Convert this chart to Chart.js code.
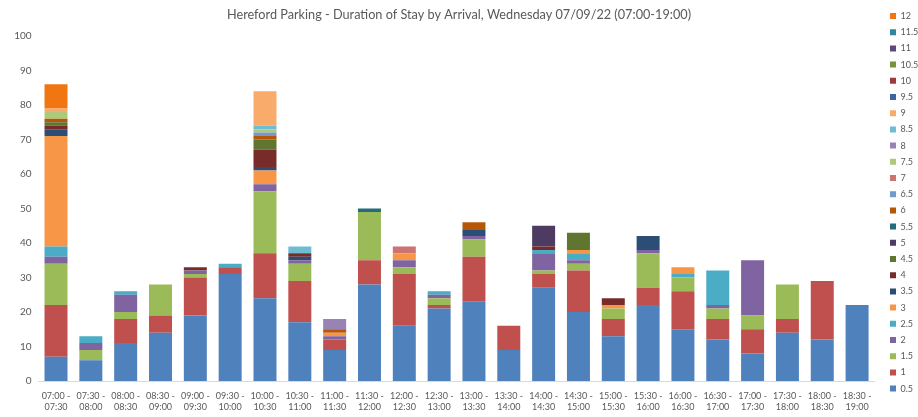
<!DOCTYPE html>
<html><head><meta charset="utf-8">
<script src="https://cdn.jsdelivr.net/npm/chart.js@4/dist/chart.umd.min.js"></script>
<style>html,body{margin:0;padding:0;background:#fff;}</style>
</head><body>
<canvas id="c" width="918" height="417"></canvas>
<script>
const categories = [
  ['07:00 -','07:30'],['07:30 -','08:00'],['08:00 -','08:30'],['08:30 -','09:00'],
  ['09:00 -','09:30'],['09:30 -','10:00'],['10:00 -','10:30'],['10:30 -','11:00'],
  ['11:00 -','11:30'],['11:30 -','12:00'],['12:00 -','12:30'],['12:30 -','13:00'],
  ['13:00 -','13:30'],['13:30 -','14:00'],['14:00 -','14:30'],['14:30 -','15:00'],
  ['15:00 -','15:30'],['15:30 -','16:00'],['16:00 -','16:30'],['16:30 -','17:00'],
  ['17:00 -','17:30'],['17:30 -','18:00'],['18:00 -','18:30'],['18:30 -','19:00']
];
const durations = ['0.5','1','1.5','2','2.5','3','3.5','4','4.5','5','5.5','6',
                   '6.5','7','7.5','8','8.5','9','9.5','10','10.5','11','11.5','12'];
const yTicks = [0,10,20,30,40,50,60,70,80,90,100];

const s0_5 = [7,6,11,14,19,31,24,17,9,28,16,21,23,9,27,20,13,22,15,12,8,14,12,22];
const s1   = [15,0,7,5,11,2,13,12,3,7,15,1,13,7,4,12,5,5,11,6,7,4,17,0];
const s1_5 = [12,3,2,9,1,0,18,5,0,14,2,2,5,0,1,2,3,10,4,3,4,10,0,0];
const s2   = [2,2,5,0,1,0,2,1,1,0,2,1,1,0,5,1,0,1,0,1,16,0,0,0];
const s2_5 = [3,2,1,0,0,1,0,0,0,0,0,1,0,0,1,2,0,0,1,10,0,0,0,0];
const s3   = [32,0,0,0,0,0,4,0,1,0,2,0,0,0,0,1,1,0,2,0,0,0,0,0];
const s3_5 = [2,0,0,0,0,0,1,1,0,0,0,0,2,0,0,0,0,4,0,0,0,0,0,0];
const s4   = [1,0,0,0,1,0,5,1,0,0,0,0,0,0,1,0,2,0,0,0,0,0,0,0];
const s4_5 = [1,0,0,0,0,0,3,0,0,0,0,0,0,0,0,5,0,0,0,0,0,0,0,0];
const s5   = [0,0,0,0,0,0,0,0,0,0,0,0,0,0,6,0,0,0,0,0,0,0,0,0];
const s5_5 = [0,0,0,0,0,0,0,0,0,1,0,0,0,0,0,0,0,0,0,0,0,0,0,0];
const s6   = [1,0,0,0,0,0,1,0,1,0,0,0,2,0,0,0,0,0,0,0,0,0,0,0];
const s6_5 = [0,0,0,0,0,0,1,0,0,0,0,0,0,0,0,0,0,0,0,0,0,0,0,0];
const s7   = [0,0,0,0,0,0,0,0,0,0,2,0,0,0,0,0,0,0,0,0,0,0,0,0];
const s7_5 = [2,0,0,0,0,0,1,0,0,0,0,0,0,0,0,0,0,0,0,0,0,0,0,0];
const s8   = [0,0,0,0,0,0,0,0,3,0,0,0,0,0,0,0,0,0,0,0,0,0,0,0];
const s8_5 = [0,0,0,0,0,0,1,2,0,0,0,0,0,0,0,0,0,0,0,0,0,0,0,0];
const s9   = [1,0,0,0,0,0,10,0,0,0,0,0,0,0,0,0,0,0,0,0,0,0,0,0];
const s9_5 = [0,0,0,0,0,0,0,0,0,0,0,0,0,0,0,0,0,0,0,0,0,0,0,0];
const s10  = [0,0,0,0,0,0,0,0,0,0,0,0,0,0,0,0,0,0,0,0,0,0,0,0];
const s10_5= [0,0,0,0,0,0,0,0,0,0,0,0,0,0,0,0,0,0,0,0,0,0,0,0];
const s11  = [0,0,0,0,0,0,0,0,0,0,0,0,0,0,0,0,0,0,0,0,0,0,0,0];
const s11_5= [0,0,0,0,0,0,0,0,0,0,0,0,0,0,0,0,0,0,0,0,0,0,0,0];
const s12  = [7,0,0,0,0,0,0,0,0,0,0,0,0,0,0,0,0,0,0,0,0,0,0,0];

const seriesValues = [s0_5,s1,s1_5,s2,s2_5,s3,s3_5,s4,s4_5,s5,s5_5,s6,
                      s6_5,s7,s7_5,s8,s8_5,s9,s9_5,s10,s10_5,s11,s11_5,s12];
const seriesColors = ['#4F81BD','#C0504D','#9BBB59','#8064A2','#4BACC6','#F79646',
                      '#2C4D75','#772C2A','#5F7530','#4D3B62','#276A7C','#B65708',
                      '#729ACA','#CD7371','#AFC97A','#9983B5','#6FBDD1','#F9AB6B',
                      '#3A67A0','#9C3B39','#77933C','#5F497A','#31859C','#F17612'];

const datasets = durations.map((d,i)=>({
  label: d,
  data: seriesValues[i].map(v => v === 0 ? null : v),
  backgroundColor: seriesColors[i],
  borderWidth: 0,
  barPercentage: 0.66,
  categoryPercentage: 1.0,
  yAxisID: 'y'
}));

const txt = '#595959';
new Chart(document.getElementById('c'), {
  type: 'bar',
  data: { labels: categories, datasets },
  options: {
    responsive: false,
    animation: false,
    layout: { padding: { left: 0, right: 0, top: 4.3, bottom: 2 } },
    plugins: {
      title: {
        display: true,
        text: 'Hereford Parking - Duration of Stay by Arrival, Wednesday 07/09/22 (07:00-19:00)',
        color: txt,
        font: { family: 'Lato', size: 12.7, weight: 'normal' },
        padding: { top: 3, bottom: 13.46 }
      },
      legend: {
        position: 'right',
        align: 'start',
        reverse: true,
        maxWidth: 35.2,
        labels: {
          boxWidth: 6, boxHeight: 6, padding: 7.2, color: txt,
          font: { family: 'Lato', size: 9 },
          generateLabels(chart) {
            const items = Chart.defaults.plugins.legend.labels.generateLabels(chart);
            items.forEach(it => { it.lineWidth = 0; it.strokeStyle = 'rgba(0,0,0,0)'; });
            return items;
          }
        }
      },
      tooltip: { enabled: false }
    },
    scales: {
      x: {
        stacked: true,
        grid: { display: false, drawTicks: false },
        border: { color: '#d9d9d9', width: 1 },
        ticks: { color: txt, font: { family: 'Lato', size: 9 }, maxRotation: 0, minRotation: 0, autoSkip: false, padding: 9.5 },
        afterFit(s) { s.height = 34; }
      },
      y: {
        stacked: true,
        min: 0, max: 100,
        afterBuildTicks(scale) { scale.ticks = yTicks.map(v => ({ value: v })); },
        grid: { display: false, drawTicks: false },
        border: { display: false },
        ticks: { color: txt, font: { family: 'Lato', size: 10 }, padding: 7 },
        afterFit(s) { s.width = 38.6; }
      },
      yGap: {
        position: 'right',
        display: true,
        grid: { display: false, drawTicks: false },
        border: { display: false },
        ticks: { display: false },
        afterFit(s) { s.width = 8.3; }
      }
    }
  }
});
</script>
</body></html>
